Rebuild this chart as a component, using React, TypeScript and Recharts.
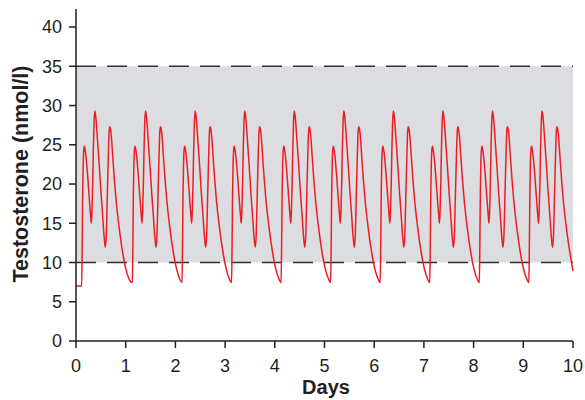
import React from "react";
import {
  LineChart,
  Line,
  XAxis,
  YAxis,
  ReferenceArea,
  ReferenceLine,
} from "recharts";

// Dose times (days): each one starts a sharp rise
const doseDays = [0.114, 1.134, 2.133, 3.13, 4.127, 5.124, 6.121, 7.118, 8.115, 9.112];

// One daily profile, time after the dose (days) and level (nmol/l)
const cycleOffsets = [
  0, 0.01, 0.02, 0.03, 0.042, 0.054, 0.068, 0.087, 0.121, 0.155, 0.181, 0.195,
  0.208, 0.222, 0.235, 0.249, 0.262, 0.275, 0.289, 0.323, 0.356, 0.39, 0.423,
  0.457, 0.477, 0.497, 0.517, 0.538, 0.551, 0.564, 0.577, 0.591, 0.625, 0.659,
  0.692, 0.759, 0.827, 0.894, 0.961,
];
const cycleLevels = [
  7.45, 12, 18.5, 22.3, 24.3, 24.8, 24.4, 23.5, 21.0, 18.0, 15.9, 15.0,
  16.7, 20.1, 24.4, 27.8, 29.3, 29.0, 28.2, 25.2, 22.2, 18.8, 15.9,
  12.9, 11.95, 13.7, 18.8, 23.9, 26.5, 27.3, 27.1, 26.5, 23.5, 20.5,
  18.0, 14.2, 11.2, 9.06, 7.8,
];

const baselineLevel = 7; // before the first dose
const endLevel = 8.9; // value at day 10

const xTicks = [0, 1, 2, 3, 4, 5, 6, 7, 8, 9, 10];
const yTicks = [0, 5, 10, 15, 20, 25, 30, 35, 40];
const normalRange = [10, 35];

const data: { t: number; v: number }[] = [{ t: 0, v: baselineLevel }];
doseDays.forEach((dose, i) => {
  cycleOffsets.forEach((off, j) => {
    const t = dose + off;
    if (t >= 9.99) return;
    const v = i === 0 && j === 0 ? baselineLevel : cycleLevels[j];
    data.push({ t, v });
  });
});
data.push({ t: 10, v: endLevel });

const ink = "#231f20";
const font = "'Liberation Sans', Arial, Helvetica, sans-serif";

export default function App() {
  return (
    <div style={{ position: "absolute", left: 0, top: 0, background: "#fff" }}>
      <LineChart
        width={585}
        height={400}
        data={data}
        margin={{ top: 9, right: 12, left: 0, bottom: 0 }}
      >
        <ReferenceArea
          x1={0}
          x2={10}
          y1={normalRange[0]}
          y2={normalRange[1]}
          fill="#dcdde0"
          fillOpacity={1}
          stroke="none"
        />
        {normalRange.map((y) => (
          <ReferenceLine
            key={y}
            y={y}
            stroke="#333"
            strokeWidth={1.5}
            strokeDasharray="20 11"
          />
        ))}
        <XAxis
          type="number"
          dataKey="t"
          domain={[0, 10]}
          ticks={xTicks}
          height={59}
          tickSize={7}
          tickMargin={11}
          axisLine={{ stroke: ink, strokeWidth: 1.5 }}
          tickLine={{ stroke: ink, strokeWidth: 1.5 }}
          tick={{ fill: ink, fontSize: 18, fontFamily: font }}
          label={{
            content: () => (
              <text
                x={326}
                y={394}
                textAnchor="middle"
                fill={ink}
                fontSize={20}
                fontWeight="bold"
                fontFamily={font}
              >
                Days
              </text>
            ),
          }}
        />
        <YAxis
          type="number"
          domain={[0, 42.3]}
          ticks={yTicks}
          width={76}
          tickSize={7}
          tickMargin={7}
          axisLine={{ stroke: ink, strokeWidth: 1.5 }}
          tickLine={{ stroke: ink, strokeWidth: 1.5 }}
          tick={{ fill: ink, fontSize: 18, fontFamily: font }}
          label={{
            content: () => (
              <text
                x={28}
                y={174}
                transform="rotate(-90 28 174)"
                textAnchor="middle"
                fill={ink}
                fontSize={21.5}
                fontWeight="bold"
                fontFamily={font}
              >
                Testosterone (nmol/l)
              </text>
            ),
          }}
        />
        <Line
          type="monotone"
          dataKey="v"
          stroke="#ed1c24"
          strokeWidth={1.5}
          dot={false}
          isAnimationActive={false}
        />
      </LineChart>
    </div>
  );
}
